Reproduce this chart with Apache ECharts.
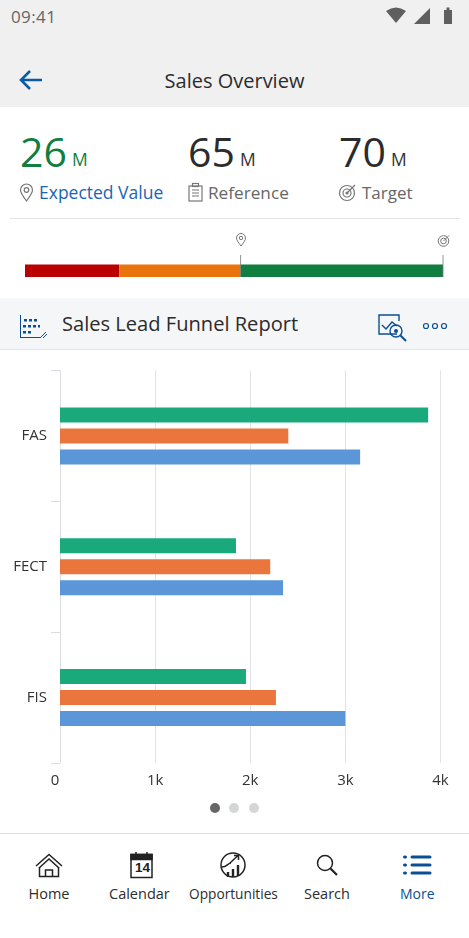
<!DOCTYPE html>
<html><head><meta charset="utf-8">
<script src="https://cdn.jsdelivr.net/npm/echarts@6/dist/echarts.min.js"></script>
<style>
html,body{margin:0;padding:0;width:469px;height:938px;overflow:hidden;background:#fff;font-family:"Open Sans","Noto Sans",sans-serif}
.t{position:absolute;white-space:nowrap;line-height:1}
.b{position:absolute}
svg{position:absolute;overflow:visible}
#c{position:absolute;left:0;top:0;width:469px;height:938px}
</style></head><body>
<div class="b" style="left:0;top:0;width:469px;height:107px;background:#f0f0f1"></div>
<div class="t" style="left:11px;top:8px;font-size:17px;color:#666;letter-spacing:.4px">09:41</div>
<svg style="left:0;top:0" width="469" height="40">
 <path d="M386 11 Q396 4 406 11 L396 23Z" fill="#5f5f5f"/>
 <path d="M414 24 L430 8 V24Z" fill="#5f5f5f"/>
 <path d="M444 10 h2.5 v-2.5 h3 v2.5 h2.5 v14 h-8Z" fill="#5f5f5f"/>
</svg>
<svg style="left:0;top:0" width="60" height="110"><path d="M42 80 H21 M30 71 L21 80 L30 89" fill="none" stroke="#0a5aa5" stroke-width="2.6"/></svg>
<div class="t" style="left:0;width:469px;text-align:center;top:71px;font-size:20px;color:#2c2c2c">Sales Overview</div>

<div class="t" style="left:20px;top:131px;font-size:41px;color:#107e3e">26</div>
<div class="t" style="left:72px;top:151px;font-size:17.5px;color:#107e3e">M</div>
<div class="t" style="left:188px;top:131px;font-size:41px;color:#2c2c2c">65</div>
<div class="t" style="left:240px;top:151px;font-size:17.5px;color:#333">M</div>
<div class="t" style="left:339px;top:131px;font-size:41px;color:#2c2c2c">70</div>
<div class="t" style="left:391px;top:151px;font-size:17.5px;color:#333">M</div>
<div class="t" style="left:39px;top:184px;font-size:17.5px;color:#1a66b5">Expected Value</div>
<div class="t" style="left:208px;top:184px;font-size:17.2px;color:#666">Reference</div>
<div class="t" style="left:362px;top:184px;font-size:17px;color:#666">Target</div>
<svg style="left:0;top:180px" width="469" height="30" fill="none" stroke="#777" stroke-width="1.2">
 <path d="M26.500 21 C22 15 20.500 12.500 20.500 10 A6 6 0 0 1 32.500 10 C32.500 12.500 31 15 26.500 21Z"/><circle cx="26.500" cy="10" r="2.300"/>
 <rect x="189" y="6" width="13" height="15"/><rect x="192.500" y="3.500" width="6" height="3"/><path d="M192 10h7M192 13h7M192 16h7"/>
 <circle cx="347" cy="13" r="7.500"/><circle cx="347" cy="13" r="4"/><circle cx="347" cy="13" r="1" fill="#777"/><path d="M347 13 L355 5"/>
</svg>
<div class="b" style="left:10px;top:218px;width:450px;height:1px;background:#e4e5e6"></div>
<svg style="left:0;top:230px" width="469" height="24" fill="none" stroke="#777" stroke-width="1">
 <path d="M241 16 C238 12 236.500 10 236.500 8 A4.500 4.500 0 0 1 245.500 8 C245.500 10 244 12 241 16Z"/><circle cx="241" cy="8" r="1.700"/>
 <circle cx="443.500" cy="11" r="5.300"/><circle cx="443.500" cy="11" r="2.800"/><path d="M443.500 11 L449 5.500"/>
</svg>

<div class="b" style="left:0;top:298px;width:469px;height:51px;background:#f5f6f7;border-bottom:1px solid #e3e4e5"></div>
<svg style="left:0;top:300px" width="469" height="45">
 <g fill="#0a4f95">
  <rect x="20" y="15" width="1" height="23"/>
  <rect x="24" y="19" width="3" height="2.500"/><rect x="29" y="19" width="3" height="2.500"/><rect x="34" y="19" width="3" height="2.500"/>
  <rect x="23" y="25" width="3" height="2.500"/><rect x="28" y="25" width="3" height="2.500"/><rect x="33" y="25" width="3" height="2.500"/><rect x="38" y="25" width="2" height="2.500"/>
  <rect x="23" y="31" width="3" height="2.500"/><rect x="28" y="31" width="3" height="2.500"/>
  <rect x="20" y="37" width="20" height="1"/>
 </g>
 <path d="M40 38 L46 32 M43 38 L47 34" stroke="#0a4f95" stroke-width="1"/>
 <g fill="none" stroke="#0a4f95" stroke-width="1.400">
  <path d="M397 34 H379 V15 H399 V21"/><path d="M382 25 L386 29 L392 22 L397 26"/>
  <circle cx="396" cy="31" r="6"/><path d="M400.500 35.500 L406 41" stroke-width="2"/>
  <circle cx="426" cy="26" r="2.500" stroke-width="1.200"/><circle cx="435" cy="26" r="2.500" stroke-width="1.200"/><circle cx="444" cy="26" r="2.500" stroke-width="1.200"/>
 </g>
 <circle cx="396" cy="31" r="2" fill="#0a4f95"/>
</svg>
<div class="t" style="left:62px;top:314px;font-size:20.100px;color:#2c2c2c">Sales Lead Funnel Report</div>

<div class="b" style="left:210px;top:803px;width:10px;height:10px;border-radius:50%;background:#666"></div>
<div class="b" style="left:229px;top:803px;width:10px;height:10px;border-radius:50%;background:#d5d6d8"></div>
<div class="b" style="left:249px;top:803px;width:10px;height:10px;border-radius:50%;background:#d5d6d8"></div>
<div class="b" style="left:0;top:833px;width:469px;height:1px;background:#ddd"></div>

<svg style="left:0;top:825px" width="469" height="60" fill="none" stroke="#222" stroke-width="1.500">
 <path d="M36 41 L49 29.500 L62 41"/><path d="M39 43 L49 34 L59 43"/><path d="M39.500 42 V51.500 H58.500 V42"/><path d="M45.500 51 V45 H52.500 V51"/>
 <rect x="131" y="29.500" width="21" height="23"/><rect x="131" y="29.500" width="21" height="5" fill="#222"/>
 <path d="M136 27 v3 M147 27 v3"/>
 <circle cx="233" cy="40" r="12"/><path d="M222 42 C227 42 228 38 231 38"/><path d="M230 38 L238 30.500 M234 30.500 H238.500 V35"/>
 <path d="M228 52 V47 M233 52 V44 M238 51 V40" stroke-width="2.400"/>
 <circle cx="325" cy="38" r="7.500"/><path d="M330.500 43.500 L337 50" stroke-width="2.200"/>
 <path d="M412 32 H430 M412 40 H430 M412 48 H430" stroke="#0a4f95" stroke-width="3" stroke-linecap="round"/>
 <path d="M404.500 32 h1 M404.500 40 h1 M404.500 48 h1" stroke="#0a4f95" stroke-width="3" stroke-linecap="round"/>
</svg>
<div class="t" style="left:135px;top:861px;font-size:13.500px;font-weight:700;color:#222;font-family:'Liberation Sans'">14</div>
<div class="t" style="left:28.500px;top:887px;font-size:14.500px;color:#2c2c2c">Home</div>
<div class="t" style="left:109px;top:887px;font-size:14.500px;color:#2c2c2c">Calendar</div>
<div class="t" style="left:189px;top:887px;font-size:13.700px;color:#2c2c2c">Opportunities</div>
<div class="t" style="left:304px;top:887px;font-size:14.500px;color:#2c2c2c">Search</div>
<div class="t" style="left:400px;top:887px;font-size:14px;color:#0a4f95">More</div>

<div id="c"></div>
<script>
const categories = ['FAS', 'FECT', 'FIS'];
const greenValues = [3870, 1850, 1955];
const orangeValues = [2400, 2210, 2270];
const blueValues = [3155, 2345, 3000];
const xTicks = ['0', '1k', '2k', '3k', '4k'];
const bulletRed = [15.8];
const bulletOrange = [20.3];
const bulletGreen = [33.9];
const bulletMarkers = [36.1, 70];

const chart = echarts.init(document.getElementById('c'), null, {renderer: 'canvas', width: 469, height: 938});
const mainBar = (name, data, color) => ({
  name, type: 'bar', data, xAxisIndex: 0, yAxisIndex: 0,
  barWidth: 15, barGap: '40%', itemStyle: {color}, silent: true, animation: false
});
const bulletBar = (name, data, color) => ({
  name, type: 'bar', stack: 'bullet', data, xAxisIndex: 1, yAxisIndex: 1,
  barWidth: 12.5, itemStyle: {color}, silent: true, animation: false
});
chart.setOption({
  backgroundColor: 'transparent',
  animation: false,
  grid: [
    {left: 60, top: 370.5, width: 380.5, height: 392.5},
    {left: 25, top: 264.5, width: 418, height: 12.5}
  ],
  xAxis: [
    {
      type: 'value', gridIndex: 0, min: 0, max: 4000, interval: 1000,
      axisLine: {show: false}, axisTick: {show: false},
      splitLine: {show: true, lineStyle: {color: '#e2e3e5', width: 1}},
      axisLabel: {
        margin: 10, color: '#333', fontSize: 15, fontFamily: 'Open Sans',
        formatter: v => v === 0 ? '{z|' + xTicks[0] + '}' : xTicks[v / 1000],
        rich: {z: {padding: [0, 10, 0, 0], fontSize: 15, color: '#333', fontFamily: 'Open Sans'}}
      }
    },
    {type: 'value', gridIndex: 1, min: 0, max: 70, show: false}
  ],
  yAxis: [
    {
      type: 'category', gridIndex: 0, inverse: true, data: categories,
      axisLine: {show: true, lineStyle: {color: '#dcdde0'}},
      axisTick: {show: true, length: 9, lineStyle: {color: '#dcdde0'}},
      axisLabel: {margin: 13, color: '#333', fontSize: 15, padding: [3, 0, 0, 0], fontFamily: 'Open Sans'}
    },
    {type: 'category', gridIndex: 1, data: ['bullet'], show: false}
  ],
  series: [
    mainBar('Green', greenValues, '#1aa97a'),
    mainBar('Orange', orangeValues, '#ea763e'),
    mainBar('Blue', blueValues, '#5a96d8'),
    bulletBar('Red', bulletRed, '#bb0000'),
    bulletBar('Amber', bulletOrange, '#e9730c'),
    bulletBar('OK', bulletGreen, '#107e3e'),
    {
      name: 'Markers', type: 'scatter', xAxisIndex: 1, yAxisIndex: 1, z: 5,
      data: bulletMarkers.map(v => [v, 'bullet']),
      symbol: 'rect', symbolSize: [1, 22], symbolOffset: [0, -4.7],
      itemStyle: {color: '#7a7a7a'}, silent: true, animation: false
    }
  ]
});
</script>
</body></html>
